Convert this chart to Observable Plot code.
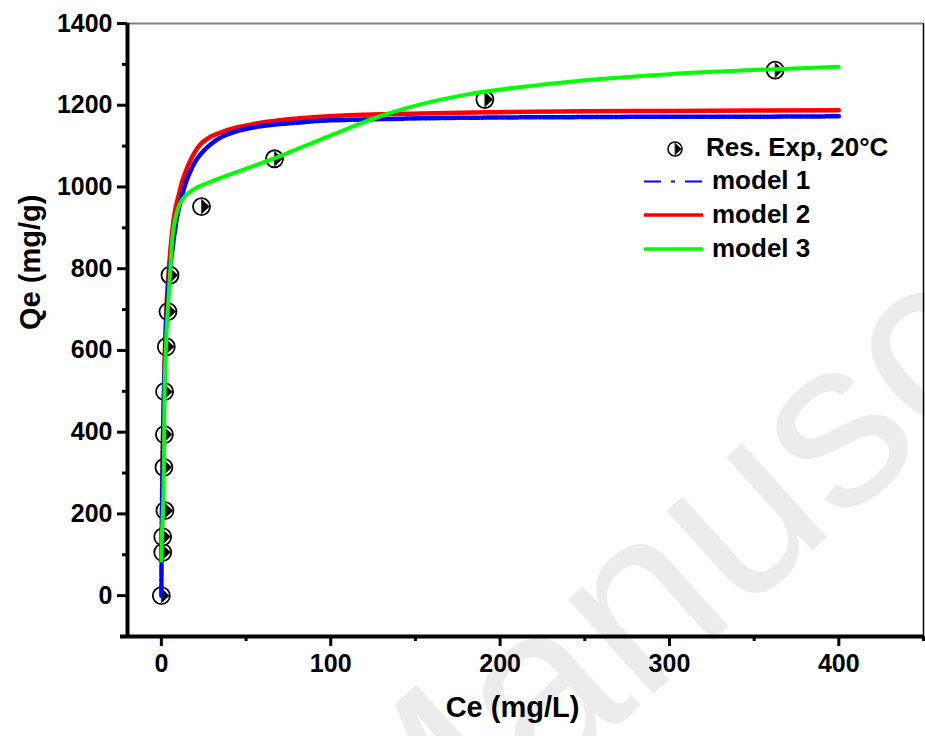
<!DOCTYPE html>
<html><head><meta charset="utf-8">
<script src="https://cdn.jsdelivr.net/npm/d3@7"></script>
<script src="https://cdn.jsdelivr.net/npm/@observablehq/plot@0.6"></script>
<style>
body{margin:0;background:#fff;}
#wrap{position:relative;width:925px;height:736px;overflow:hidden;font-family:'Liberation Sans',Arial,sans-serif;}
#wrap > svg{position:absolute;left:0;top:0;}
</style></head><body><div id="wrap"></div>
<script>
// ---------- data ----------
const expCe = [0, 0.8, 0.8, 2.1, 1.5, 1.8, 1.9, 2.9, 3.9, 5.1, 23.7, 66.8, 191, 362.4];
const expQe = [0, 106, 144, 208, 314, 394, 499, 609, 695, 784, 952, 1069, 1214, 1286];

const model1Ce = [0, 0.1, 0.8, 1.5, 2.2, 3, 4, 5, 6, 7.4, 9, 11.4, 14, 17.3, 20, 25.1, 30, 35, 45, 55, 70, 82, 94, 120, 153, 200, 250, 300, 350, 400];
const model1Qe = [0, 86, 330, 480, 590, 680, 750, 800, 830, 875, 920, 966, 1005, 1040, 1062, 1089, 1107, 1121, 1137, 1146, 1154, 1158, 1162, 1165, 1168, 1170, 1171, 1172, 1172, 1173];

const model2Ce = [0.2, 0.8, 1.5, 2.2, 3, 4, 5, 6, 7.4, 10.4, 12.4, 15.3, 19, 23.2, 28, 35, 45, 54.4, 70, 82, 94, 120, 153, 200, 250, 300, 350, 400];
const model2Qe = [90, 345, 500, 615, 705, 775, 830, 875, 925, 983, 1015, 1048, 1080, 1105, 1120, 1133, 1146, 1154, 1163, 1168, 1172, 1177, 1180, 1183, 1185, 1186, 1187, 1188];

const model3Ce = [0.05, 0.3, 0.9, 1.5, 1.9, 2.7, 3.8, 5.1, 6.5, 8.4, 10.5, 13.3, 17, 21.2, 27, 35, 50, 67.4, 82, 94, 110, 127, 153, 180, 220, 259, 300, 362, 400];
const model3Qe = [86, 140, 208, 314, 499, 609, 700, 785, 875, 925, 955, 974, 988, 999, 1009, 1022, 1045, 1071, 1096, 1116, 1143, 1170, 1202, 1226, 1248, 1264, 1276, 1288, 1294];

const xTicks = [0, 100, 200, 300, 400];
const xMinorTicks = [50, 150, 250, 350, 450];
const yTicks = [0, 200, 400, 600, 800, 1000, 1200, 1400];
const yMinorTicks = [100, 300, 500, 700, 900, 1100, 1300];

const seriesNames = ["Res. Exp, 20°C", "model 1", "model 2", "model 3"];
const seriesColors = ["#000000", "#0000ff", "#ff0000", "#00ff00"];
const xTitle = "Ce (mg/L)";
const yTitle = "Qe (mg/g)";
const watermark = "Manuscript";

// ---------- tables ----------
const toRows = (xs, ys) => xs.map((c, i) => ({Ce: c, Qe: ys[i]}));
const expRows = toRows(expCe, expQe);
const m1 = toRows(model1Ce, model1Qe);
const m2 = toRows(model2Ce, model2Qe);
const m3 = toRows(model3Ce, model3Qe);

// right-pointing half marker (wedge in the right half of the circle)
const halfRight = {
  draw(ctx, size) {
    const r = Math.sqrt(size / Math.PI);
    ctx.moveTo(0, -0.9 * r);
    ctx.lineTo(0.95 * r, 0);
    ctx.lineTo(0, 0.9 * r);
    ctx.closePath();
  }
};
const vbar = {
  draw(ctx, size) {
    const r = Math.sqrt(size / Math.PI);
    ctx.moveTo(0, -r);
    ctx.lineTo(0, r);
  }
};

const font = "'Liberation Sans', Arial, sans-serif";
const wrap = document.getElementById("wrap");
const NS = "http://www.w3.org/2000/svg";

// ---------- watermark (behind) ----------
const wm = document.createElementNS(NS, "svg");
wm.setAttribute("width", 925); wm.setAttribute("height", 736);
const wmt = document.createElementNS(NS, "text");
wmt.setAttribute("x", 0); wmt.setAttribute("y", 0);
wmt.setAttribute("transform", "translate(393 928) rotate(-42)");
wmt.setAttribute("font-size", 240);
wmt.setAttribute("font-family", font);
wmt.setAttribute("fill", "#ececec");
wmt.textContent = watermark;
wm.appendChild(wmt);
wrap.appendChild(wm);

// ---------- chart ----------
const chart = Plot.plot({
  width: 925,
  height: 736,
  marginLeft: 127,
  marginRight: 2,
  marginTop: 23,
  marginBottom: 100,
  x: {domain: [-20, 450], label: null},
  y: {domain: [-100, 1400], label: null},
  style: {fontFamily: font, fontSize: "25px", color: "black", background: "transparent", overflow: "visible"},
  marks: [
    Plot.ruleY([1400], {stroke: "#808080", strokeWidth: 2}),
    Plot.ruleX([450], {stroke: "#000", strokeWidth: 1.5}),
    Plot.dot(expRows, {x: "Ce", y: "Qe", r: 8.5, fill: "white", stroke: "black", strokeWidth: 1.8}),
    Plot.dot(expRows, {x: "Ce", y: "Qe", r: 8.5, symbol: halfRight, fill: "black", stroke: "none"}),
    Plot.dot(expRows, {x: "Ce", y: "Qe", r: 8.5, symbol: vbar, fill: "none", stroke: "#444", strokeWidth: 1}),
    Plot.line(m2, {x: "Ce", y: "Qe", stroke: seriesColors[2], strokeWidth: 4.5, curve: "monotone-x"}),
    Plot.line(m1, {x: "Ce", y: "Qe", stroke: seriesColors[1], strokeWidth: 4.5, strokeDasharray: "12,2,3,2", curve: "monotone-x"}),
    Plot.line(m3, {x: "Ce", y: "Qe", stroke: seriesColors[3], strokeWidth: 4, curve: "monotone-x"}),
    Plot.axisY(yMinorTicks, {tickSize: 5, strokeWidth: 3, tickFormat: () => "", label: null}),
    Plot.axisY(yTicks, {tickSize: 10, tickPadding: 5, strokeWidth: 3, fontSize: 25, fontWeight: "bold", tickFormat: d => String(d), label: null}),
    Plot.axisX(xMinorTicks, {tickSize: 5, strokeWidth: 3, tickFormat: () => "", label: null}),
    Plot.axisX(xTicks, {tickSize: 10, tickPadding: 8, strokeWidth: 3, fontSize: 25, fontWeight: "bold", tickFormat: d => String(d), label: null}),
    Plot.ruleX([-20], {stroke: "#000", strokeWidth: 4}),
    Plot.ruleY([-100], {stroke: "#000", strokeWidth: 4, insetLeft: -7}),
    Plot.text([xTitle], {text: d => d, frameAnchor: "bottom", dy: 80, dx: -13, fontSize: 29, fontWeight: "bold"}),
    Plot.text([yTitle], {text: d => d, frameAnchor: "left", rotate: -90, dx: -97, fontSize: 29, fontWeight: "bold"})
  ]
});
wrap.appendChild(chart);

// ---------- legend (overlay) ----------
const lg = document.createElementNS(NS, "svg");
lg.setAttribute("width", 925); lg.setAttribute("height", 736);
lg.style.pointerEvents = "none";
function el(tag, attrs, parent) {
  const e = document.createElementNS(NS, tag);
  for (const k in attrs) e.setAttribute(k, attrs[k]);
  (parent || lg).appendChild(e);
  return e;
}
el("circle", {cx: 675, cy: 149, r: 7, fill: "white", stroke: "black", "stroke-width": 1.6});
el("path", {d: "M675,142.7 L681.6,149 L675,155.3 Z", fill: "black"});
el("line", {x1: 675, x2: 675, y1: 142, y2: 156, stroke: "#444", "stroke-width": 1});
const rows = [
  {y: 147, line: null},
  {y: 181.5, line: {color: seriesColors[1], w: 2.2, dash: "17,10,4,10"}},
  {y: 215, line: {color: seriesColors[2], w: 3.6, dash: null}},
  {y: 249, line: {color: seriesColors[3], w: 3.6, dash: null}}
];
rows.forEach((r, i) => {
  if (r.line) {
    const a = {x1: 644, x2: 703, y1: r.y, y2: r.y, stroke: r.line.color, "stroke-width": r.line.w};
    if (r.line.dash) a["stroke-dasharray"] = r.line.dash;
    el("line", a);
  }
  const t = el("text", {x: i === 0 ? 706 : 712, y: r.y - (i === 0 ? 0 : 1.5), "dominant-baseline": "central",
    "font-family": font, "font-size": 26, "font-weight": "bold", fill: "black"});
  t.textContent = seriesNames[i];
});
wrap.appendChild(lg);
</script></body></html>
